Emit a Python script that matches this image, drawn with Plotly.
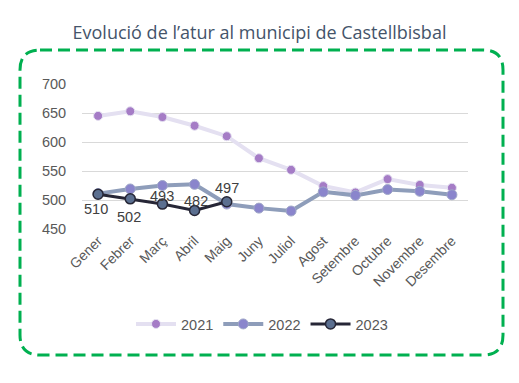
import plotly.graph_objects as go

months = ["Gener", "Febrer", "Març", "Abril", "Maig", "Juny", "Juliol",
          "Agost", "Setembre", "Octubre", "Novembre", "Desembre"]
v2021 = [645, 653, 643, 628, 610, 572, 552, 524, 513, 536, 526, 521]
v2022 = [511, 519, 525, 527, 493, 486, 481, 514, 508, 518, 515, 509]
v2023 = [510, 502, 493, 482, 497]
# label offsets (pixels) for the 2023 data labels
label_dx = [-2, -1, 0, 1, 0]
label_dy = [-15, -18, 8, 9, 14]

W, H = 519, 383
L, R, T, B = 82, 51, 84, 154
pw, ph = W - L - R, H - T - B

def px(x):
    return (x - L) / pw

def py(y):
    return (H - B - y) / ph

fig = go.Figure()
fig.add_trace(go.Scatter(
    x=months, y=v2021, name="2021", mode="lines+markers",
    line=dict(color="#E4E0F1", width=4),
    marker=dict(color="#A57CC6", size=9, line=dict(color="#E4E0F1", width=1)),
))
fig.add_trace(go.Scatter(
    x=months, y=v2022, name="2022", mode="lines+markers",
    line=dict(color="#8E9DBA", width=4),
    marker=dict(color="#8A85CC", size=10, line=dict(color="#A0A8C8", width=1)),
))
fig.add_trace(go.Scatter(
    x=months[:len(v2023)], y=v2023, name="2023", mode="lines+markers",
    line=dict(color="#262636", width=3),
    marker=dict(color="#5B6F90", size=10, line=dict(color="#262636", width=1.5)),
))

for m, v, dx, dy in zip(months, v2023, label_dx, label_dy):
    fig.add_annotation(x=m, y=v, text=str(v), showarrow=False,
                       xshift=dx, yshift=dy,
                       font=dict(color="#404040", size=14.5,
                                 family="Liberation Sans, Arial, sans-serif"))

# rounded dashed frame
x0, x1, y0, y1, r = 20, 503, 50, 355, 20
path = (f"M {px(x0 + r)},{py(y0)} L {px(x1 - r)},{py(y0)} Q {px(x1)},{py(y0)} {px(x1)},{py(y0 + r)} "
        f"L {px(x1)},{py(y1 - r)} Q {px(x1)},{py(y1)} {px(x1 - r)},{py(y1)} "
        f"L {px(x0 + r)},{py(y1)} Q {px(x0)},{py(y1)} {px(x0)},{py(y1 - r)} "
        f"L {px(x0)},{py(y0 + r)} Q {px(x0)},{py(y0)} {px(x0 + r)},{py(y0)} Z")
fig.add_shape(type="path", path=path, xref="paper", yref="paper",
              line=dict(color="#00B050", width=3, dash="12px,6px"), layer="below")

fig.update_layout(
    width=W, height=H,
    margin=dict(l=L, r=R, t=T, b=B),
    paper_bgcolor="white", plot_bgcolor="white",
    font=dict(family="Liberation Sans, Arial, sans-serif", color="#595959", size=14),
    title=dict(text="Evolució de l’atur al municipi de Castellbisbal",
               x=0.5, xref="container", xanchor="center",
               y=1 - 33 / H, yref="container", yanchor="middle",
               font=dict(family="Open Sans, sans-serif", size=18, color="#44546A")),
    showlegend=True,
    legend=dict(orientation="h", x=px(262), xanchor="center", y=py(324), yanchor="middle",
                font=dict(size=14.5, color="#595959"), itemwidth=40, tracegroupgap=0),
    xaxis=dict(type="category", tickangle=-45, showgrid=False, showline=False,
               ticks="", tickfont=dict(size=14, color="#595959"), range=[-0.5, 11.5]),
    yaxis=dict(range=[450, 700], dtick=50, showgrid=True, gridcolor="#D9D9D9",
               gridwidth=1, zeroline=False, showline=False,
               ticks="outside", ticklen=12, tickcolor="rgba(0,0,0,0)",
               tickfont=dict(size=14.5, color="#595959")),
)

fig.write_html("out.html", config={"displayModeBar": False},
               post_script="document.body.style.margin='0';document.body.style.overflow='hidden';")
